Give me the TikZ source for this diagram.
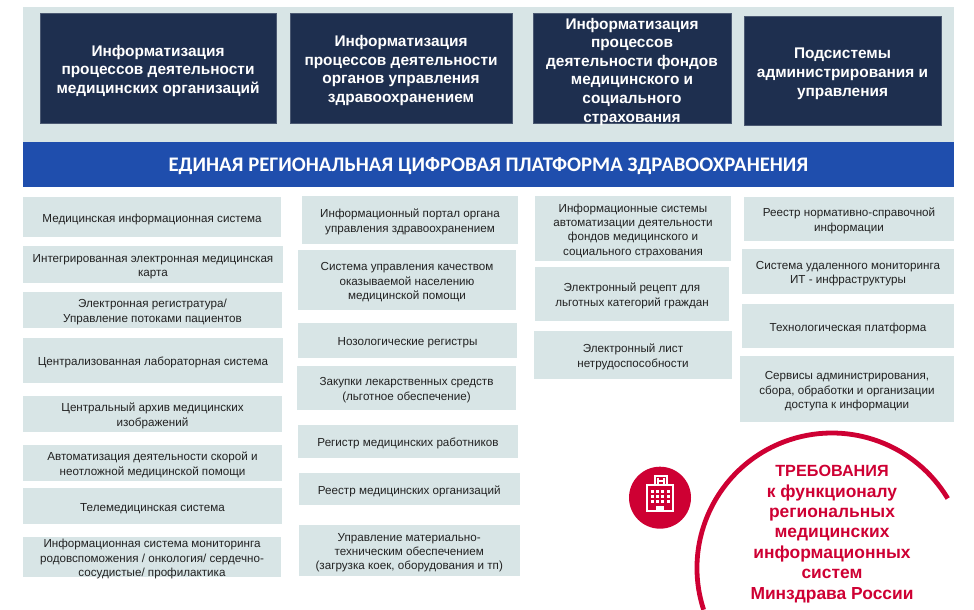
\documentclass[tikz,border=0pt]{standalone}
\usepackage{fontspec}
\setmainfont{Liberation Sans}
\newfontfamily\barfont{Carlito}
\definecolor{panel}{HTML}{D8E5E6}
\definecolor{navy}{HTML}{1E2F4F}
\definecolor{bluebar}{HTML}{1F4EAD}
\definecolor{crim}{HTML}{CE0033}
\definecolor{txt}{HTML}{222222}
\tikzset{
 x=1pt,y=-1pt,
 base/.style={anchor=center,inner sep=0pt,align=center},
 lightbox/.style={base,fill=panel,text=txt,font=\fontsize{11.65}{14.3}\selectfont},
 darkbox/.style={base,fill=navy,draw=navy!80!white,line width=.5pt,text=white,font=\bfseries\fontsize{15.4}{18.6}\selectfont},
}
\newcommand\bx[7][lightbox]{%
 \pgfmathsetmacro\bw{#4-#2}\pgfmathsetmacro\bh{#5-#3}%
 \pgfmathsetmacro\cx{(#4+#2)/2}\pgfmathsetmacro\cy{(#5+#3)/2}%
 \node[#1,minimum width=\bw pt,minimum height=\bh pt] (#6) at (\cx,\cy) {#7};}
\newcommand\sa{\rule{0pt}{12.6pt}}
\newcommand\sd{\rule{0pt}{16.5pt}}
\begin{document}
\begin{tikzpicture}
\useasboundingbox (0,0) rectangle (974,610);
\fill[panel] (23,7) rectangle (954,143);
\bx[darkbox]{40}{13}{276}{123}{d1}{\sd Информатизация\\процессов деятельности\\медицинских организаций}
\bx[darkbox]{290}{13}{512}{123}{d2}{\sd Информатизация\\процессов деятельности\\органов управления\\здравоохранением}
\bx[darkbox,text height=109pt,text depth=1pt]{533}{13}{731}{123}{d3}{Информатизация\\процессов\\деятельности фондов\\медицинского и\\социального\\страхования}
\bx[darkbox]{744}{16}{941}{125.5}{d4}{\sd Подсистемы\\администрирования и\\управления}
\node[base,fill=bluebar,text=white,minimum width=931pt,minimum height=45pt,font=\barfont\bfseries\fontsize{20.7}{22}\selectfont] (bar) at (488.5,164.5) {\rule{0pt}{17pt}ЕДИНАЯ РЕГИОНАЛЬНАЯ ЦИФРОВАЯ ПЛАТФОРМА ЗДРАВООХРАНЕНИЯ};
% column 1
\bx{23}{197}{281}{237}{a1}{\sa Медицинская информационная система}
\bx{23}{246}{283}{283}{a2}{\sa Интегрированная электронная медицинская\\карта}
\bx{23}{292}{282}{328}{a3}{\sa Электронная регистратура/\\Управление потоками пациентов}
\bx{23}{338}{283}{383}{a4}{\sa Централизованная лабораторная система}
\bx{23}{396}{282}{432}{a5}{\sa Центральный архив медицинских\\изображений}
\bx{23}{445}{282}{481}{a6}{\sa Автоматизация деятельности скорой и\\неотложной медицинской помощи}
\bx{23}{488}{282}{524}{a7}{\sa Телемедицинская система}
\bx[lightbox,text height=39.5pt,text depth=.5pt]{23}{537}{281}{577}{a8}{Информационная система мониторинга\\родовспоможения / онкология/ сердечно-\\сосудистые/ профилактика}
% column 2
\bx{302}{196}{518}{244}{b1}{\sa Информационный портал органа\\управления здравоохранением}
\bx{298}{250}{516}{310}{b2}{\sa Система управления качеством\\оказываемой населению\\медицинской помощи}
\bx{298}{323}{517}{358}{b3}{\sa Нозологические регистры}
\bx{297}{366}{516}{410}{b4}{\sa Закупки лекарственных средств\\(льготное обеспечение)}
\bx{298}{425}{518}{458}{b5}{\sa Регистр медицинских работников}
\bx{299}{473}{519.5}{505}{b6}{\sa Реестр медицинских организаций}
\bx{299}{525}{519.5}{576}{b7}{\sa Управление материально-\\техническим обеспечением\\(загрузка коек, оборудования и тп)}
% column 3
\bx{535}{196}{731}{261}{c1}{\sa Информационные системы\\автоматизации деятельности\\фондов медицинского и\\социального страхования}
\bx{535}{267}{729}{321}{c2}{\sa Электронный рецепт для\\льготных категорий граждан}
\bx{534}{331}{732}{379}{c3}{\sa Электронный лист\\нетрудоспособности}
% column 4
\bx{744}{197}{954}{241}{e1}{\sa Реестр нормативно-справочной\\информации}
\bx{742}{249}{954}{294}{e2}{\sa Система удаленного мониторинга\\ИТ - инфраструктуры}
\bx{742}{304}{954}{348}{e3}{\sa Технологическая платформа}
\bx{740}{356}{954}{422}{e4}{\sa Сервисы администрирования,\\сбора, обработки и организации\\доступа к информации}
% arc
\draw[crim,line width=4.8pt] (832,568) ++(162:135) arc[start angle=162,end angle=329,radius=135];
% icon
\fill[crim] (660,497.7) circle (31);
\begin{scope}[white,line width=2pt]
\draw (655.3,486) -- (655.3,476) -- (666.7,476) -- (666.7,486);
\draw (647,511) rectangle (672.5,485);
\draw[line width=1.8pt] (658,477.5) -- (658,484) (664,477.5) -- (664,484) (658,480.7) -- (664,480.7);
\foreach \c in {652.5,657.8,662.8,668}\foreach \r in {491.8,496.8,501.8}
  \fill (\c-1.5,\r-1.5) rectangle ++(3,3);
\fill (656,505.5) rectangle (664.3,511);
\end{scope}
\node[base,text=crim,font=\bfseries\fontsize{17.4}{20.4}\selectfont] (req) at (832,534) {{\fontsize{16.2}{20.4}\selectfont ТРЕБОВАНИЯ}\\к функционалу\\региональных\\медицинских\\информационных\\систем\\Минздрава России};
\end{tikzpicture}
\end{document}
